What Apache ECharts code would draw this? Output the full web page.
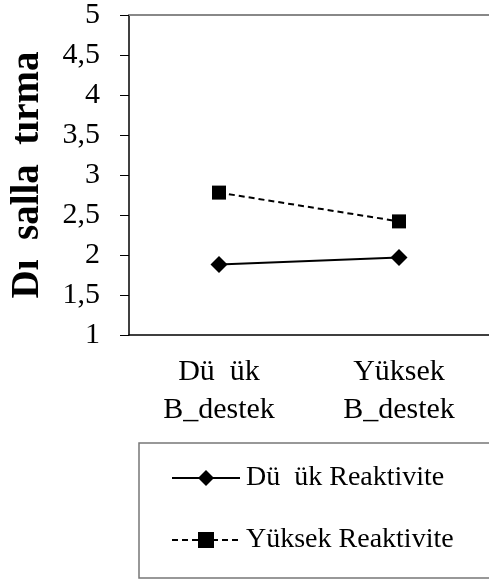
<!DOCTYPE html>
<html>
<head>
<meta charset="utf-8">
<script src="https://cdn.jsdelivr.net/npm/echarts@6/dist/echarts.min.js"></script>
<style>
  html, body { margin: 0; padding: 0; background: #fff; }
  #chart { width: 489px; height: 581px; }
</style>
</head>
<body>
<div id="chart"></div>
<script>
const categories = ['Dü  ük\nB_destek', 'Yüksek\nB_destek']
const seriesNames = ['Dü  ük Reaktivite', 'Yüksek Reaktivite']
const dusukValues = [1.88, 1.97]
const yuksekValues = [2.78, 2.42]
const yTicks = [1, 1.5, 2, 2.5, 3, 3.5, 4, 4.5, 5]

const font = 'Liberation Serif'
const chart = echarts.init(document.getElementById('chart'))

const option = {
  backgroundColor: '#fff',
  animation: false,
  grid: {
    left: 129,
    top: 15,
    width: 364,
    height: 320
  },
  legend: {
    left: 139,
    top: 443,
    orient: 'vertical',
    data: seriesNames,
    itemWidth: 68,
    itemHeight: 20,
    itemGap: 34,
    padding: [21, 80, 24, 32],
    borderColor: '#777',
    borderWidth: 1.5,
    textStyle: {
      fontFamily: font,
      fontSize: 28,
      color: '#000',
      padding: [0, 0, 0, 1]
    }
  },
  xAxis: [
    {
      type: 'category',
      data: categories,
      axisLine: { lineStyle: { color: '#000', width: 1.5 } },
      axisTick: { length: 6, lineStyle: { color: '#888' } },
      axisLabel: {
        fontFamily: font,
        fontSize: 30,
        lineHeight: 38,
        color: '#000',
        margin: 18
      }
    },
    {
      type: 'category',
      position: 'top',
      data: categories,
      axisLine: { lineStyle: { color: '#888', width: 2 } },
      axisTick: { show: false },
      axisLabel: { show: false }
    }
  ],
  yAxis: {
    type: 'value',
    min: yTicks[0],
    max: yTicks[yTicks.length - 1],
    interval: 0.5,
    name: 'Dı  salla  tırma',
    nameLocation: 'middle',
    nameRotate: 90,
    nameGap: 82,
    nameTextStyle: {
      fontFamily: font,
      fontSize: 39,
      fontWeight: 'bold',
      color: '#000'
    },
    axisLine: { show: true, lineStyle: { color: '#000', width: 1.5 } },
    axisTick: { show: true, inside: false, length: 9, lineStyle: { color: '#000' } },
    splitLine: { show: false },
    axisLabel: {
      fontFamily: font,
      fontSize: 30,
      color: '#000',
      margin: 29,
      formatter: v => String(v).replace('.', ',')
    }
  },
  series: [
    {
      name: seriesNames[0],
      type: 'line',
      data: dusukValues,
      symbol: 'diamond',
      symbolSize: 17,
      itemStyle: { color: '#000' },
      lineStyle: { color: '#000', width: 2, type: 'solid' }
    },
    {
      name: seriesNames[1],
      type: 'line',
      data: yuksekValues,
      symbol: 'rect',
      symbolSize: 14,
      itemStyle: { color: '#000' },
      lineStyle: { color: '#000', width: 2, type: [6, 4] }
    }
  ]
}

chart.setOption(option)
</script>
</body>
</html>
